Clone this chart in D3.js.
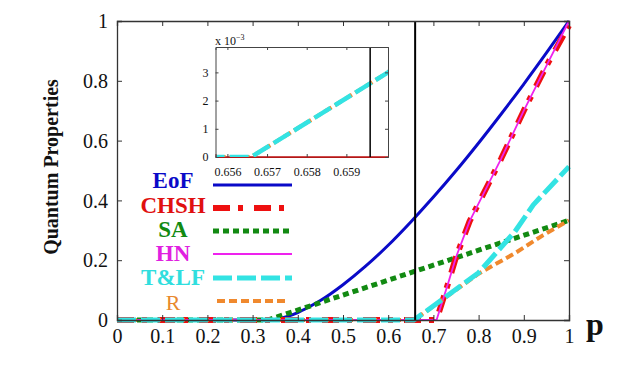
<!DOCTYPE html>
<html><head><meta charset="utf-8">
<script src="https://cdn.jsdelivr.net/npm/d3@7"></script>
</head>
<body style="margin:0;background:#fff">
<svg id="c" width="624" height="368"></svg>
<script>
// ---------- data ----------
const xTicks = [0,0.1,0.2,0.3,0.4,0.5,0.6,0.7,0.8,0.9,1];
const yTicks = [0,0.2,0.4,0.6,0.8,1];
const xTickLabels = ["0","0.1","0.2","0.3","0.4","0.5","0.6","0.7","0.8","0.9","1"];
const yTickLabels = ["0","0.2","0.4","0.6","0.8","1"];

const eofP = [0,0.333,0.35,0.375,0.4,0.425,0.45,0.5,0.55,0.6,0.65,0.7,0.75,0.8,0.85,0.9,0.95,1];
const eofV = [0,0,0.002,0.011,0.025,0.044,0.065,0.118,0.180,0.250,0.328,0.411,0.499,0.592,0.689,0.789,0.893,1];
const chshP = [0,0.707,0.733,0.75,0.78,0.85,0.9,0.95,1];
const chshV = [0,0,0.125,0.21,0.33,0.54,0.70,0.85,0.985];
const saP = [0,0.3333,1];
const saV = [0,0,0.3333];
const hnP = [0,0.707,0.733,0.75,0.78,0.85,0.9,0.95,1];
const hnV = [0,0,0.125,0.21,0.33,0.54,0.70,0.85,1.0];
const tlfP = [0,0.6566,0.66005,0.80,0.88,0.921,1];
const tlfV = [0,0,0.003,0.158,0.295,0.385,0.513];
const rP = [0,0.6566,0.66005,0.80,0.88,0.943,1];
const rV = [0,0,0.003,0.155,0.223,0.284,0.333];
const markerP = 0.6596;

const insetXTicks = [0.656,0.657,0.658,0.659];
const insetXTickLabels = ["0.656","0.657","0.658","0.659"];
const insetYTicks = [0,0.001,0.002,0.003];
const insetYTickLabels = ["0","1","2","3"];

const legendNames = ["EoF","CHSH","SA","HN","T&LF","R"];

// ---------- styles ----------
const FONT = "Liberation Serif";
const styles = {
  EoF:  {color:"#0a0ac8", text:"#0a0ac8", w:3,   dash:null,         bold:true},
  CHSH: {color:"#ee1010", text:"#e01010", w:6,   dash:"17,8,5,11",  bold:true},
  SA:   {color:"#128a12", text:"#128a12", w:5,   dash:"6,4",        bold:true},
  HN:   {color:"#ee22ee", text:"#e020e0", w:1.8, dash:null,         bold:true},
  "T&LF":{color:"#33e3e3",text:"#30dede", w:5,   dash:"19,5",       bold:true},
  R:    {color:"#f0892e", text:"#e8892e", w:4,   dash:"8,4",        bold:false}
};
const series = {
  EoF:[eofP,eofV], CHSH:[chshP,chshV], SA:[saP,saV], HN:[hnP,hnV], "T&LF":[tlfP,tlfV], R:[rP,rV]
};
const drawOrder = ["EoF","SA","CHSH","HN","R","T&LF"];

const svg = d3.select("#c");
const L=117, R=569, T=21, B=320;
const x = d3.scaleLinear().domain([0,1]).range([L,R]);
const y = d3.scaleLinear().domain([0,1]).range([B,T]);
const axisColor = "#333";

const g = svg.append("g");
drawOrder.forEach(k=>{
  const [P,V]=series[k]; const s=styles[k];
  const pts = P.map((p,i)=>[p,V[i]]);
  const line = d3.line().x(d=>x(d[0])).y(d=>y(d[1]))
    .curve(k==="EoF"?d3.curveMonotoneX:d3.curveLinear);
  g.append("path").attr("d",line(pts)).attr("fill","none")
    .attr("stroke",s.color).attr("stroke-width",s.w)
    .attr("stroke-dasharray",s.dash).attr("stroke-linejoin","round");
});
g.append("line").attr("x1",x(markerP)).attr("x2",x(markerP)).attr("y1",y(0)).attr("y2",y(1))
  .attr("stroke","#000").attr("stroke-width",2);

const ax = d3.axisBottom(x).tickValues(xTicks).tickFormat((d,i)=>xTickLabels[i]).tickSize(-5).tickPadding(14);
const ay = d3.axisLeft(y).tickValues(yTicks).tickFormat((d,i)=>yTickLabels[i]).tickSize(-5).tickPadding(9);
const axT = d3.axisTop(x).tickValues(xTicks).tickFormat("").tickSize(-5);
const ayR = d3.axisRight(y).tickValues(yTicks).tickFormat("").tickSize(-5);
function styleAxis(sel){
  sel.attr("font-family",null).attr("font-size",null);
  sel.selectAll("path").attr("stroke",axisColor).attr("stroke-width",1.3);
  sel.selectAll("line").attr("stroke",axisColor).attr("stroke-width",1);
  sel.selectAll("text").style("font-family",FONT).style("font-size","20px").attr("fill","#111");
}
const gx = svg.append("g").attr("transform",`translate(0,${B})`).call(ax); styleAxis(gx);
const gy = svg.append("g").attr("transform",`translate(${L},0)`).call(ay); styleAxis(gy);
gy.selectAll("text").attr("dy","0.33em");
const gt = svg.append("g").attr("transform",`translate(0,${T})`).call(axT); styleAxis(gt);
const gr = svg.append("g").attr("transform",`translate(${R},0)`).call(ayR); styleAxis(gr);
gx.selectAll(".tick text").attr("dy","0").attr("y",23);

svg.append("text").attr("transform","translate(58,167) rotate(-90)").attr("text-anchor","middle")
  .style("font-family",FONT).style("font-weight","bold").style("font-size","20px").attr("fill","#111").text("Quantum Properties");
svg.append("text").attr("x",595).attr("y",335).attr("text-anchor","middle")
  .style("font-family",FONT).style("font-weight","bold").style("font-size","32px").attr("fill","#111").text("p");

// ---------- inset ----------
const iL=215.5, iR=388, iT=47, iB=157;
const ix = d3.scaleLinear().domain([0.6557,0.66005]).range([iL,iR]);
const iy = d3.scaleLinear().domain([0,0.0039]).range([iB,iT]);
svg.append("rect").attr("x",iL).attr("y",iT).attr("width",iR-iL).attr("height",iB-iT).attr("fill","#fff");
svg.append("clipPath").attr("id","ic").append("rect").attr("x",iL).attr("y",iT-3).attr("width",iR-iL).attr("height",iB-iT+3);
const ig = svg.append("g").attr("clip-path","url(#ic)");
const iline = d3.line().x(d=>ix(d[0])).y(d=>iy(d[1]));
ig.append("path").attr("d",iline(chshP.map((p,i)=>[p,chshV[i]]))).attr("fill","none")
  .attr("stroke","#c01010").attr("stroke-width",1.5);
ig.append("path").attr("d",iline(rP.map((p,i)=>[p,rV[i]]))).attr("fill","none")
  .attr("stroke",styles.R.color).attr("stroke-width",4).attr("stroke-dasharray","8,4");
ig.append("path").attr("d",iline(tlfP.map((p,i)=>[p,tlfV[i]]))).attr("fill","none")
  .attr("stroke",styles["T&LF"].color).attr("stroke-width",4.5).attr("stroke-dasharray","19,5");
ig.append("line").attr("x1",ix(markerP)).attr("x2",ix(markerP)).attr("y1",iB).attr("y2",iT)
  .attr("stroke","#000").attr("stroke-width",1.5);

function styleInset(sel){
  sel.attr("font-family",null).attr("font-size",null);
  sel.selectAll("path").attr("stroke","#444").attr("stroke-width",1);
  sel.selectAll("line").attr("stroke","#444").attr("stroke-width",1);
  sel.selectAll("text").style("font-family",FONT).style("font-size","12px").attr("fill","#111");
}
const iax = d3.axisBottom(ix).tickValues(insetXTicks).tickFormat((d,i)=>insetXTickLabels[i]).tickSize(-3).tickPadding(10);
const iay = d3.axisLeft(iy).tickValues(insetYTicks).tickFormat((d,i)=>insetYTickLabels[i]).tickSize(-3).tickPadding(7);
const iat = d3.axisTop(ix).tickValues(insetXTicks).tickFormat("").tickSize(-3);
const iar = d3.axisRight(iy).tickValues(insetYTicks).tickFormat("").tickSize(-3);
const gix = svg.append("g").attr("transform",`translate(0,${iB})`).call(iax); styleInset(gix);
gix.select(".domain").attr("stroke","#b01818");
const giy = svg.append("g").attr("transform",`translate(${iL},0)`).call(iay); styleInset(giy);
const git = svg.append("g").attr("transform",`translate(0,${iT})`).call(iat); styleInset(git);
const gir = svg.append("g").attr("transform",`translate(${iR},0)`).call(iar); styleInset(gir);
const mult = svg.append("text").attr("x",215).attr("y",45).style("font-family",FONT).style("font-size","12px").attr("fill","#111");
mult.append("tspan").text("x 10");
mult.append("tspan").attr("dy",-5).style("font-size","8px").text("\u22123");

// ---------- legend ----------
const legRows = [185,208,231,254,278,301];
const legText = [188,213,237,261,285,310];
const legX1 = 213, legX2 = 292;
legendNames.forEach((k,i)=>{
  const s=styles[k];
  svg.append("text").attr("x",173).attr("y",legText[i]).attr("text-anchor","middle")
    .style("font-family",FONT)
    .style("font-size",(k==="R"?22:23)+"px").style("font-weight",s.bold?"bold":"normal").attr("fill",s.text).text(k);
  svg.append("line").attr("x1",k==="R"?217:legX1).attr("x2",k==="CHSH"||k==="R"?287:legX2)
    .attr("y1",legRows[i]).attr("y2",legRows[i])
    .attr("stroke",s.color).attr("stroke-width",s.w).attr("stroke-dasharray",s.dash);
});
</script>
</body></html>
